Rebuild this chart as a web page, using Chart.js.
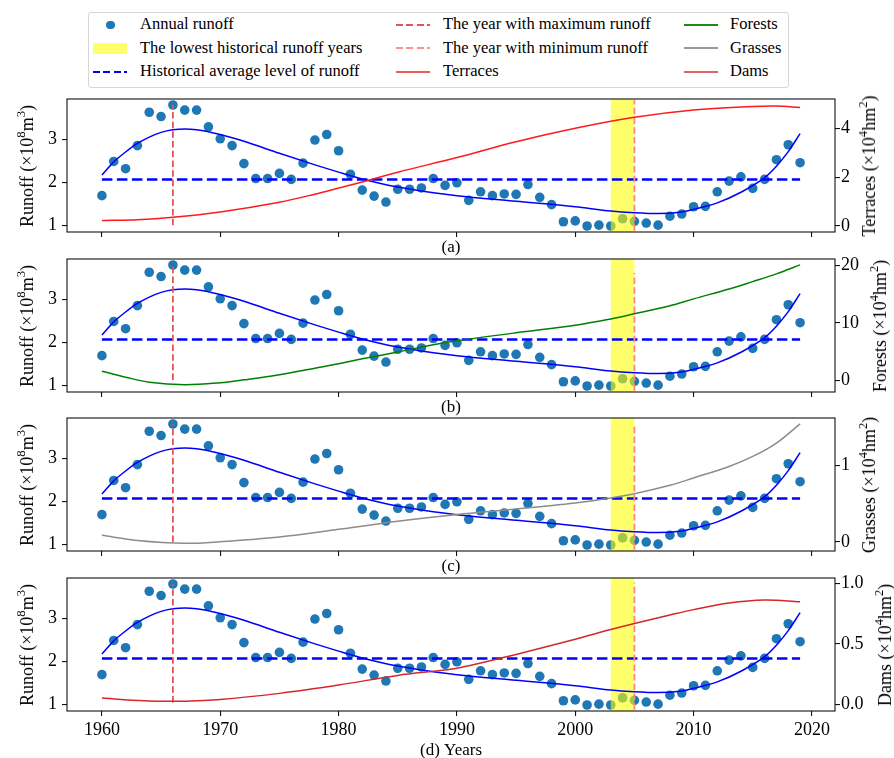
<!DOCTYPE html>
<html>
<head>
<meta charset="utf-8">
<script src="https://cdn.jsdelivr.net/npm/chart.js@4.4.0/dist/chart.umd.min.js"></script>
<style>
  html, body { margin: 0; padding: 0; background: #fff; }
  body { width: 894px; height: 758px; position: relative; overflow: hidden;
         font-family: "Liberation Serif", "Times New Roman", serif; color: #000; }
  canvas { position: absolute; left: 0; }
  .ylab { position: absolute; white-space: nowrap; font-size: 18px; line-height: 18px;
          transform: translate(-50%, -50%) rotate(-90deg); }
  .ylab sup { font-size: 0.7em; line-height: 0; position: relative; top: -0.1em; }
  #legend { position: absolute; left: 88px; top: 12px; width: 701px; height: 76px;
            border: 1px solid #d6d6d6; border-radius: 3px; box-sizing: border-box; background: #fff; }
  .ltext { position: absolute; font-size: 16.5px; line-height: 16.5px; white-space: nowrap; }
  .lhandle { position: absolute; }
</style>
</head>
<body>
<div id="legend"></div>
<script>
// ---- Annual runoff (x10^8 m^3), 1960-2019 ----
const years = [
  1960,1961,1962,1963,1964,1965,1966,1967,1968,1969,
  1970,1971,1972,1973,1974,1975,1976,1977,1978,1979,
  1980,1981,1982,1983,1984,1985,1986,1987,1988,1989,
  1990,1991,1992,1993,1994,1995,1996,1997,1998,1999,
  2000,2001,2002,2003,2004,2005,2006,2007,2008,2009,
  2010,2011,2012,2013,2014,2015,2016,2017,2018,2019
];
const runoff = [
  1.69,2.49,2.32,2.86,3.64,3.54,3.81,3.69,3.69,3.30,
  3.02,2.86,2.44,2.09,2.09,2.21,2.07,2.45,2.99,3.12,
  2.74,2.19,1.82,1.68,1.54,1.84,1.84,1.87,2.09,1.93,
  1.99,1.58,1.78,1.69,1.73,1.72,1.95,1.65,1.48,1.08,
  1.10,0.98,1.00,0.98,1.15,1.09,1.05,1.00,1.21,1.26,
  1.43,1.44,1.78,2.03,2.13,1.86,2.07,2.53,2.88,2.46
];

// ---- fitted runoff trend ----
const fitYears = [1960,1961,1962,1963,1964,1965,1966,1967,1968,1970,1972,1975,1978,1980,1982,
                  1985,1988,1990,1995,2000,2003,2005,2007,2009,2010,2012,2014,2016,2017,2018,2019];
const fitRunoff = [2.17,2.48,2.71,2.91,3.06,3.17,3.23,3.25,3.23,3.12,2.96,2.68,2.41,2.24,2.08,
                   1.89,1.76,1.69,1.56,1.43,1.33,1.29,1.27,1.31,1.37,1.52,1.77,2.11,2.38,2.72,3.14];

// ---- soil & water conservation measures (x10^4 hm^2) ----
const terraceYears = [1960,1963,1966,1970,1975,1978,1980,1982,1985,1990,1995,2000,2005,2010,2015,2017,2019];
const terraces     = [0.22,0.25,0.35,0.57,0.97,1.30,1.55,1.80,2.20,2.80,3.45,4.00,4.45,4.75,4.89,4.91,4.85];

const forestYears = [1960,1962,1964,1967,1970,1972,1975,1978,1980,1982,1985,1988,1990,1995,2000,2003,2005,2008,2010,2013,2015,2017,2019];
const forests     = [1.62,0.58,-0.30,-0.72,-0.38,0.12,1.00,2.14,2.90,3.77,4.95,6.20,6.90,8.30,9.60,10.70,11.60,13.00,14.20,15.90,17.20,18.55,20.10];

const grassYears = [1960,1963,1967,1970,1975,1980,1985,1990,1995,2000,2003,2005,2008,2010,2013,2015,2017,2019];
const grasses    = [0.087,0.020,-0.017,0.004,0.065,0.165,0.270,0.360,0.430,0.510,0.575,0.630,0.740,0.835,0.985,1.115,1.290,1.540];

const damYears = [1960,1963,1966,1970,1975,1980,1985,1990,1994,2000,2003,2005,2008,2010,2013,2016,2019];
const dams     = [0.052,0.033,0.025,0.041,0.091,0.160,0.240,0.300,0.390,0.540,0.620,0.670,0.740,0.785,0.840,0.865,0.850];

// ---- marked years ----
const maxRunoffYear = 1966;
const minRunoffYear = 2005;
const lowestYears = [2003, 2005];

// ---- tick labels ----
const yearTicks = [1960, 1970, 1980, 1990, 2000, 2010, 2020];
const runoffTicks = [1, 2, 3];
const terraceTicks = [0, 2, 4];
const forestTicks = [0, 10, 20];
const grassTicks = [0, 1];
const damTicks = [0, 0.5, 1];

// ---- derived values ----
const meanRunoff = runoff.reduce((a, b) => a + b, 0) / runoff.length;
const maxRunoff = Math.max(...runoff);

const FONT = '"Liberation Serif", "Times New Roman", serif';
Chart.defaults.font.family = FONT;
Chart.defaults.color = '#000';

const PANEL_TOPS = [99, 259, 418, 578];
const PANEL_H = 133;
const PAD_TOP = 18;
const LEFT_W = 67, RIGHT_W = 59, W = 894;

const panels = [
  { xTitle: '(a)', showYears: false, xAxisH: 26, titlePad: 1.5,
    name: 'Terraces', yrs: terraceYears, vals: terraces, color: '#ff1a1a', ticks: terraceTicks,
    rMin: -0.25, rMax: 5.2, dec: 0, labelX: 869, maxLow: 1.0, minHigh: 3.92 },
  { xTitle: '(b)', showYears: false, xAxisH: 26, titlePad: 1.5,
    name: 'Forests', yrs: forestYears, vals: forests, color: '#008000', ticks: forestTicks,
    rMin: -2.0, rMax: 21.13, dec: 0, labelX: 880, maxLow: 1.12, minHigh: 3.62 },
  { xTitle: '(c)', showYears: false, xAxisH: 26, titlePad: 1.5,
    name: 'Grasses', yrs: grassYears, vals: grasses, color: '#8c8c8c', ticks: grassTicks,
    rMin: -0.117, rMax: 1.616, dec: 0, labelX: 869, maxLow: 1.05, minHigh: 3.82 },
  { xTitle: '(d) Years', showYears: true, xAxisH: 49, titlePad: 0.5,
    name: 'Dams', yrs: damYears, vals: dams, color: '#d62728', ticks: damTicks,
    rMin: -0.055, rMax: 1.047, dec: 1, labelX: 885, maxLow: 1.04, minHigh: 3.84 }
];

const pts = (xs, ys) => xs.map((x, i) => ({ x, y: ys[i] }));

// yellow band over the lowest-runoff years (drawn right after the scatter), plus the axes frame
const decor = {
  id: 'decor',
  afterDatasetDraw(chart, args) {
    if (args.index !== 0) return;
    const { ctx, chartArea, scales } = chart;
    const x0 = scales.x.getPixelForValue(lowestYears[0]);
    const x1 = scales.x.getPixelForValue(lowestYears[1]);
    ctx.save();
    ctx.fillStyle = 'rgba(255,255,0,0.58)';
    ctx.fillRect(x0, chartArea.top, x1 - x0, chartArea.bottom - chartArea.top);
    ctx.restore();
  },
  afterDraw(chart) {
    const { ctx, chartArea: a } = chart;
    ctx.save();
    ctx.strokeStyle = '#111';
    ctx.lineWidth = 1.1;
    ctx.strokeRect(a.left, a.top, a.right - a.left, a.bottom - a.top);
    ctx.restore();
  }
};

const tickGrid = { display: true, drawOnChartArea: false, drawTicks: true, tickLength: 5, color: '#111', lineWidth: 1.1 };

panels.forEach((p, i) => {
  const canvas = document.createElement('canvas');
  const h = PAD_TOP + PANEL_H + p.xAxisH;
  canvas.width = W; canvas.height = h;
  canvas.style.width = W + 'px'; canvas.style.height = h + 'px';
  canvas.style.top = (PANEL_TOPS[i] - PAD_TOP) + 'px';
  document.body.appendChild(canvas);

  const lineDs = (data, extra) => Object.assign({
    data, showLine: true, pointRadius: 0, pointHoverRadius: 0, fill: false, yAxisID: 'y'
  }, extra);

  new Chart(canvas, {
    type: 'scatter',
    data: {
      datasets: [
        { label: 'Annual runoff', data: pts(years, runoff), yAxisID: 'y',
          backgroundColor: '#1f77b4', borderWidth: 0, pointRadius: 4.8, pointHoverRadius: 4.8, order: 10 },
        lineDs(pts(fitYears, fitRunoff), { label: 'Trend', borderColor: '#0000ff', borderWidth: 1.5,
          cubicInterpolationMode: 'monotone', order: 3 }),
        lineDs([{ x: years[0], y: meanRunoff }, { x: years[years.length - 1], y: meanRunoff }],
          { label: 'Historical average level of runoff', borderColor: '#0000ff', borderWidth: 2.6,
            borderDash: [10.5, 4.5], order: 4 }),
        lineDs([{ x: maxRunoffYear, y: p.maxLow }, { x: maxRunoffYear, y: maxRunoff }],
          { label: 'The year with maximum runoff', borderColor: '#e65555', borderWidth: 1.8,
            borderDash: [6.5, 3.2], order: 2 }),
        lineDs([{ x: minRunoffYear, y: 0.87 }, { x: minRunoffYear, y: p.minHigh }],
          { label: 'The year with minimum runoff', borderColor: '#ff8585', borderWidth: 1.8,
            borderDash: [6.5, 3.2], order: 2 }),
        lineDs(pts(p.yrs, p.vals), { label: p.name, yAxisID: 'y1', borderColor: p.color, borderWidth: 1.5,
          tension: 0.35, order: 1 })
      ]
    },
    options: {
      responsive: false, animation: false, devicePixelRatio: 1,
      layout: { padding: { top: PAD_TOP, left: 0, right: 0, bottom: 0 } },
      plugins: { legend: { display: false }, tooltip: { enabled: false } },
      events: [],
      scales: {
        x: {
          type: 'linear', min: 1957.05, max: 2021.95,
          afterBuildTicks: s => { s.ticks = yearTicks.map(v => ({ value: v })); },
          ticks: { display: p.showYears, font: { size: 18 }, color: '#000', padding: 3,
                   maxRotation: 0, autoSkip: false, callback: v => String(v) },
          grid: tickGrid, border: { display: false },
          title: { display: true, text: p.xTitle, color: '#000',
                   font: { size: 17, lineHeight: 1 }, padding: { top: 0, bottom: p.titlePad } },
          afterFit: s => { s.height = p.xAxisH; }
        },
        y: {
          type: 'linear', position: 'left', min: 0.84, max: 3.95,
          afterBuildTicks: s => { s.ticks = runoffTicks.map(v => ({ value: v })); },
          ticks: { font: { size: 18 }, color: '#000', padding: 5, callback: v => String(v) },
          grid: tickGrid, border: { display: false },
          afterFit: s => { s.width = LEFT_W; }
        },
        y1: {
          type: 'linear', position: 'right', min: p.rMin, max: p.rMax,
          afterBuildTicks: s => { s.ticks = p.ticks.map(v => ({ value: v })); },
          ticks: { font: { size: 18 }, color: '#000', padding: 1, callback: v => v.toFixed(p.dec) },
          grid: tickGrid, border: { display: false },
          afterFit: s => { s.width = RIGHT_W; }
        }
      }
    },
    plugins: [decor]
  });

  // axis titles
  const cy = PANEL_TOPS[i] + PANEL_H / 2;
  const left = document.createElement('div');
  left.className = 'ylab';
  left.style.left = '27px'; left.style.top = cy + 'px';
  left.innerHTML = 'Runoff (\u00d710<sup>8</sup>m<sup>3</sup>)';
  document.body.appendChild(left);
  const right = document.createElement('div');
  right.className = 'ylab';
  right.style.left = p.labelX + 'px'; right.style.top = cy + 'px';
  right.innerHTML = p.name + ' (\u00d710<sup>4</sup>hm<sup>2</sup>)';
  document.body.appendChild(right);
});

// ---- legend ----
const legendItems = [
  { text: 'Annual runoff', kind: 'dot', color: '#1f77b4' },
  { text: 'The year with maximum runoff', kind: 'dash', color: '#e65555', lw: 2 },
  { text: 'Forests', kind: 'line', color: '#1a8c1a', lw: 2 },
  { text: 'The lowest historical runoff years', kind: 'patch', color: 'rgba(255,255,0,0.58)' },
  { text: 'The year with minimum runoff', kind: 'dash', color: '#ff9090', lw: 2 },
  { text: 'Grasses', kind: 'line', color: '#999', lw: 2 },
  { text: 'Historical average level of runoff', kind: 'dash', color: '#0000ff', lw: 2.4 },
  { text: 'Terraces', kind: 'line', color: '#ee5b5b', lw: 2.4 },
  { text: 'Dams', kind: 'line', color: '#e06464', lw: 2.4 }
];
const legendCols = [{ hx: 93.3, tx: 140 }, { hx: 396, tx: 443 }, { hx: 683.5, tx: 730 }];
const legendRows = [25, 48.3, 71.7];
legendItems.forEach((it, k) => {
  const c = legendCols[k % 3], ry = legendRows[Math.floor(k / 3)];
  const hd = document.createElement('div');
  hd.className = 'lhandle';
  const hw = 34;
  if (it.kind === 'dot') {
    Object.assign(hd.style, { left: (c.hx + hw / 2 - 4.3) + 'px', top: (ry - 4.3) + 'px', width: '8.6px', height: '8.6px',
      borderRadius: '50%', background: it.color });
  } else if (it.kind === 'patch') {
    Object.assign(hd.style, { left: c.hx + 'px', top: (ry - 5.3) + 'px', width: hw + 'px', height: '10.7px', background: it.color });
  } else {
    Object.assign(hd.style, { left: c.hx + 'px', top: (ry - it.lw / 2) + 'px', width: hw + 'px', height: it.lw + 'px',
      background: it.kind === 'dash'
        ? `repeating-linear-gradient(90deg, ${it.color} 0 7px, transparent 7px 10.3px)`
        : it.color });
  }
  document.body.appendChild(hd);
  const tx = document.createElement('div');
  tx.className = 'ltext';
  tx.style.left = c.tx + 'px';
  tx.style.top = (ry - 8.6) + 'px';
  tx.textContent = it.text;
  document.body.appendChild(tx);
});
</script>
</body>
</html>
